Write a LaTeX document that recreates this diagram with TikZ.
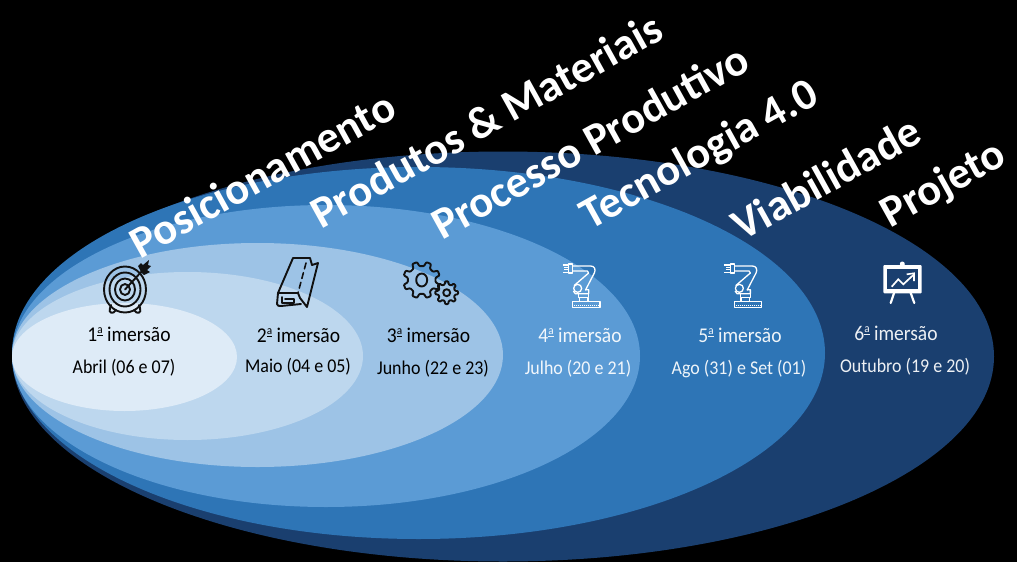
\documentclass[tikz,border=0pt]{standalone}
\usepackage{fontspec}
\setmainfont{Carlito}
\definecolor{c6}{HTML}{1A3F6F}\definecolor{c5}{HTML}{2E75B6}\definecolor{c4}{HTML}{5B9BD5}
\definecolor{c3}{HTML}{9DC3E6}\definecolor{c2}{HTML}{BDD7EE}\definecolor{c1}{HTML}{DEEBF7}
\definecolor{ink}{HTML}{111111}
\newcommand{\ordA}{\raisebox{0.36em}{\fontsize{12}{12}\selectfont\underline{a}}}
\tikzset{
 x=1pt,y=-1pt,
 title/.style={font=\fontsize{44.5}{44.5}\selectfont\bfseries,text=white,rotate=29,inner sep=0},
 imm/.style={font=\fontsize{21}{21}\selectfont\addfontfeature{FakeStretch=0.93},inner sep=0},
 dat/.style={font=\fontsize{19.5}{19.5}\selectfont\addfontfeature{FakeStretch=0.92},inner sep=0},
 ico/.style={draw=ink,line width=1.9pt,line join=round,line cap=round},
 icow/.style={draw=white,line width=1.3pt,line join=round},
}
\newcommand{\gearshape}[6]{% cx cy outer inner teeth rotation
 \draw[ico,rounded corners=0.8pt] \foreach \k [evaluate=\k as \a using #6+\k*360/#5] in {1,...,#5}{
   \ifnum\k=1 ({#1+#4*cos(\a-0.30*360/#5)},{#2+#4*sin(\a-0.30*360/#5)})\else -- ({#1+#4*cos(\a-0.30*360/#5)},{#2+#4*sin(\a-0.30*360/#5)})\fi
   -- ({#1+#3*cos(\a-0.17*360/#5)},{#2+#3*sin(\a-0.17*360/#5)})
   -- ({#1+#3*cos(\a+0.17*360/#5)},{#2+#3*sin(\a+0.17*360/#5)})
   -- ({#1+#4*cos(\a+0.30*360/#5)},{#2+#4*sin(\a+0.30*360/#5)})
 } -- cycle;}
\newcommand{\robot}[1]{%
 \begin{scope}[shift={(#1,255)},x=0.3333pt,y=-0.3333pt]
  \draw[icow] (38,30) -- (56,30) -- (56,37) -- (42,37) (42,44) -- (56,44) -- (56,52) -- (38,52);
  \draw[icow] (56,27) rectangle (68,54);
  \draw[icow] (68,33) -- (122,33) .. controls (134,33) and (138,44) .. (133,54) -- (106,106);
  \draw[icow] (68,48) -- (112,48) -- (116,54) -- (72,92);
  \draw[icow] (83,100) circle (4pt);
  \draw[icow] (70,108) -- (76,116) -- (116,116) -- (116,104) -- (106,104);
  \draw[icow] (86,116) -- (86,128) -- (116,128) -- (116,116);
  \draw[icow] (88,128) -- (88,140) -- (114,140) -- (114,128);
  \draw[icow] (68,140) rectangle (150,157);
  \draw[white,line width=1pt,dash pattern=on 1pt off 1pt] (72,152) -- (146,152);
 \end{scope}}
\begin{document}
\begin{tikzpicture}
\useasboundingbox (0,0) rectangle (1017,562);
\fill[black] (0,0) rectangle (1017,562);
\fill[c6] (503,356.5) ellipse [x radius=491,y radius=205];
\fill[c5] (418.5,353) ellipse [x radius=406.5,y radius=186];
\fill[c4] (326,356) ellipse [x radius=314,y radius=151];
\fill[c3] (257.5,355) ellipse [x radius=245.5,y radius=112];
\fill[c2] (187.5,356) ellipse [x radius=175.5,y radius=84];
\fill[c1] (124.5,357) ellipse [x radius=112.5,y radius=54];

% titles
\node[title] (t1) at (262,174) {Posicionamento};
\node[title] (t2) at (486,120) {Produtos \& Materiais};
\node[title] (t3) at (590,141) {Processo Produtivo};
\node[title] (t4) at (700,156) {Tecnologia 4.0};
\node[title] (t5) at (826,178) {Viabilidade};
\node[title] (t6) at (944,185) {Projeto};

% labels
\node[imm] (a1) at (129,334) {1\ordA{} imersão};
\node[dat] (b1) at (124,368) {Abril (06 e 07)};
\node[imm] (a2) at (298.5,335) {2\ordA{} imersão};
\node[dat] (b2) at (298,367) {Maio (04 e 05)};
\node[imm] (a3) at (428.5,335) {3\ordA{} imersão};
\node[dat] (b3) at (433,369) {Junho (22 e 23)};
\node[imm,text=white!92!c4] (a4) at (580,335) {4\ordA{} imersão};
\node[dat,text=white!92!c4] (b4) at (578,369) {Julho (20 e 21)};
\node[imm,text=white!92!c5] (a5) at (740,335) {5\ordA{} imersão};
\node[dat,text=white!92!c5] (b5) at (739,369) {Ago (31) e Set (01)};
\node[imm,text=white!92!c6] (a6) at (896,333) {6\ordA{} imersão};
\node[dat,text=white!92!c6] (b6) at (905,367) {Outubro (19 e 20)};

% target icon
\foreach \rx/\ry in {21/23,15.5/17,10/11,5/5.5}{\draw[ico] (125,289.5) ellipse [x radius=\rx,y radius=\ry];}
\draw[ico] (111,305) -- (110,308) .. controls (108,313) and (113,315) .. (116,310);
\draw[ico] (139,305) -- (140,308) .. controls (142,313) and (137,315) .. (134,310);
\draw[ico] (125,289.5) -- (143,270);
\fill[ink] (138,266) -- (141,263) -- (143,265) -- (149,260) -- (148,265) -- (151,266) -- (147,270) -- (150,272) -- (144,275) -- (141,272) -- cycle;

% fabric roll icon
\draw[ico] (278,293) -- (293,258) -- (310,258) -- (312,265) -- (318,263) -- (307,307) -- (300,298) -- (298,293) -- cycle;
\draw[ico] (278,293) -- (277,304) .. controls (277,306) and (279,306) .. (281,306) -- (301,304);
\draw[ico,line width=1.6pt] (282,297) -- (282,303) -- (294,303) -- (294,299) -- (285,299);
\draw[ico,line width=1.6pt,dash pattern=on 6pt off 4pt] (306,263) -- (298,293);

% gears icon
\gearshape{421.7}{280}{18.5}{14}{8}{22.5}
\draw[ico] (421.7,280) ellipse [x radius=5.5,y radius=6.5];
\gearshape{446.7}{292.7}{11.5}{8.5}{8}{0}
\draw[ico] (446.7,292.7) circle (3.5pt);

\robot{550}
\robot{711.7}

% presentation icon
\fill[white,rounded corners=1pt] (883.3,265) rectangle (921.7,293.3);
\fill[white] (902.3,264) circle (2.5pt);
\fill[c6] (887.3,269) rectangle (917.7,289.3);
\draw[white,line width=1.7pt] (891.7,286.7) -- (898.3,279.3) -- (903.3,284.3) -- (913.3,275);
\draw[white,line width=1.6pt] (906.7,274.3) -- (914,273.3) -- (914,281);
\draw[white,line width=2.2pt,line cap=round] (894,293) -- (890.7,303) (910.7,293) -- (914.3,303);
\end{tikzpicture}
\end{document}
